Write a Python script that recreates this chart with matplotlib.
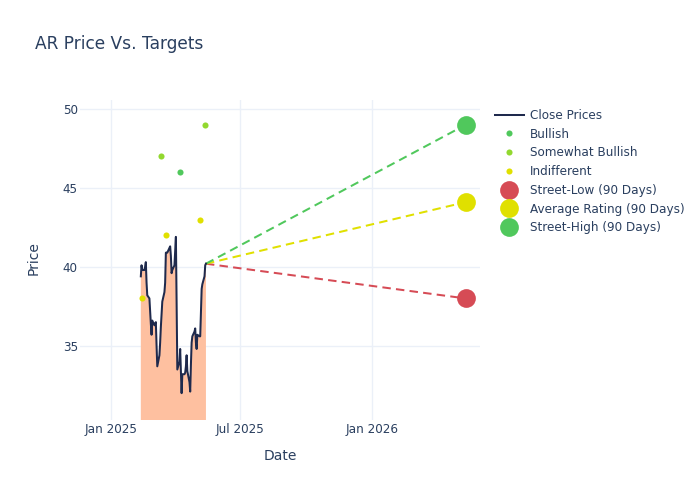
import matplotlib
matplotlib.use("Agg")
import matplotlib.pyplot as plt
import pandas as pd

# daily closes
close_dates = pd.bdate_range("2025-02-12", "2025-05-14")
close_prices = [
    39.4, 40.1, 39.8, 39.8, 40.0, 40.3, 39.0, 38.2, 38.0, 37.2, 36.4,
    35.7, 36.6, 36.3, 36.4, 36.5, 35.0, 33.7, 34.4, 35.2, 36.2, 37.0,
    37.8, 38.4, 39.0, 40.9, 40.9, 40.9, 41.2, 41.3, 40.7, 39.6, 39.8,
    40.1, 41.0, 41.9, 37.8, 33.5, 34.0, 34.8, 33.4, 32.0, 33.2, 33.2,
    33.3, 33.7, 34.4, 33.4, 32.7, 32.1, 33.8, 35.2, 35.6, 35.9, 36.1,
    35.2, 34.8, 35.7, 35.6, 35.6, 37.1, 38.6, 38.9, 39.4, 40.1, 40.2,
]

bullish_dates = ["2025-04-08"]
bullish_prices = [46]
somewhat_dates = ["2025-03-12", "2025-05-12"]
somewhat_prices = [47, 49]
indifferent_dates = ["2025-02-13", "2025-03-19", "2025-05-06"]
indifferent_prices = [38, 42, 43]

target_date = "2026-05-12"
street_low = 38
average_rating = 44.1
street_high = 49

y_ticks = [35, 40, 45, 50]
x_ticks = ["2025-01-01", "2025-07-01", "2026-01-01"]
x_tick_labels = ["Jan 2025", "Jul 2025", "Jan 2026"]

TEXT = "#2a3f5f"
GRID = "#ebf0f8"
NAVY = "#1f2a4d"
GREEN = "#50c85c"
LIME = "#92d82f"
YELLOW = "#e0e000"
RED = "#d64b55"

plt.rcParams["font.family"] = ["DejaVu Sans"]

fig = plt.figure(figsize=(7, 5), dpi=100)
ax = fig.add_axes([80 / 700, 80 / 500, 400 / 700, 320 / 500])

dates = pd.to_datetime(close_dates)
ax.fill_between(dates, close_prices, 0, color="#fec0a0", linewidth=0, zorder=1)
close_line, = ax.plot(dates, close_prices, color=NAVY, linewidth=1.45, zorder=3,
                      label="Close Prices")

# dashed lines from the last close out to each target
start = dates[-1]
end = pd.Timestamp(target_date)
for value, color in [(street_low, RED), (average_rating, YELLOW), (street_high, GREEN)]:
    ax.plot([start, end], [close_prices[-1], value], color=color, linewidth=1.45,
            dashes=(4.2, 2.6), zorder=2)

dot = dict(linestyle="none", marker="o", markersize=4.4, markeredgewidth=0, zorder=4)
h_bull, = ax.plot(pd.to_datetime(bullish_dates), bullish_prices, color=GREEN,
                  label="Bullish", **dot)
h_some, = ax.plot(pd.to_datetime(somewhat_dates), somewhat_prices, color=LIME,
                  label="Somewhat Bullish", **dot)
h_ind, = ax.plot(pd.to_datetime(indifferent_dates), indifferent_prices, color=YELLOW,
                 label="Indifferent", **dot)

big = dict(linestyle="none", marker="o", markersize=13.5, markeredgewidth=0, zorder=5)
h_low, = ax.plot([end], [street_low], color=RED, label="Street-Low (90 Days)", **big)
h_avg, = ax.plot([end], [average_rating], color=YELLOW, label="Average Rating (90 Days)", **big)
h_high, = ax.plot([end], [street_high], color=GREEN, label="Street-High (90 Days)", **big)

ax.set_xlim(pd.Timestamp("2024-11-19"), pd.Timestamp("2026-06-01"))
ax.set_ylim(30.3, 50.57)
ax.set_xticks(pd.to_datetime(x_ticks))
ax.set_xticklabels(x_tick_labels)
ax.set_yticks(y_ticks)
ax.grid(True, color=GRID, linewidth=1)
ax.set_axisbelow(True)
ax.tick_params(length=0, labelsize=8.64, colors=TEXT)
ax.tick_params(axis="x", pad=2.2)
ax.tick_params(axis="y", pad=1.5)
for side in ax.spines.values():
    side.set_visible(False)

fig.text(35 / 700, 1 - 44 / 500, "AR Price Vs. Targets", fontsize=12.25, color=TEXT, va="center")
fig.text(280 / 700, 1 - 456 / 500, "Date", fontsize=10, color=TEXT, ha="center", va="center")
fig.text(34 / 700, 1 - 258.5 / 500, "Price", fontsize=10, color=TEXT, ha="center", va="center",
         rotation=90)

fig.legend(handles=[close_line, h_bull, h_some, h_ind, h_low, h_avg, h_high],
           loc="upper left", bbox_to_anchor=(490 / 700, 1 - 104 / 500), frameon=False,
           fontsize=8.64, labelcolor=TEXT, labelspacing=0.48, handlelength=2.4,
           handletextpad=0.5, borderpad=0.4, borderaxespad=0)

fig.savefig("out.png", dpi=100)
